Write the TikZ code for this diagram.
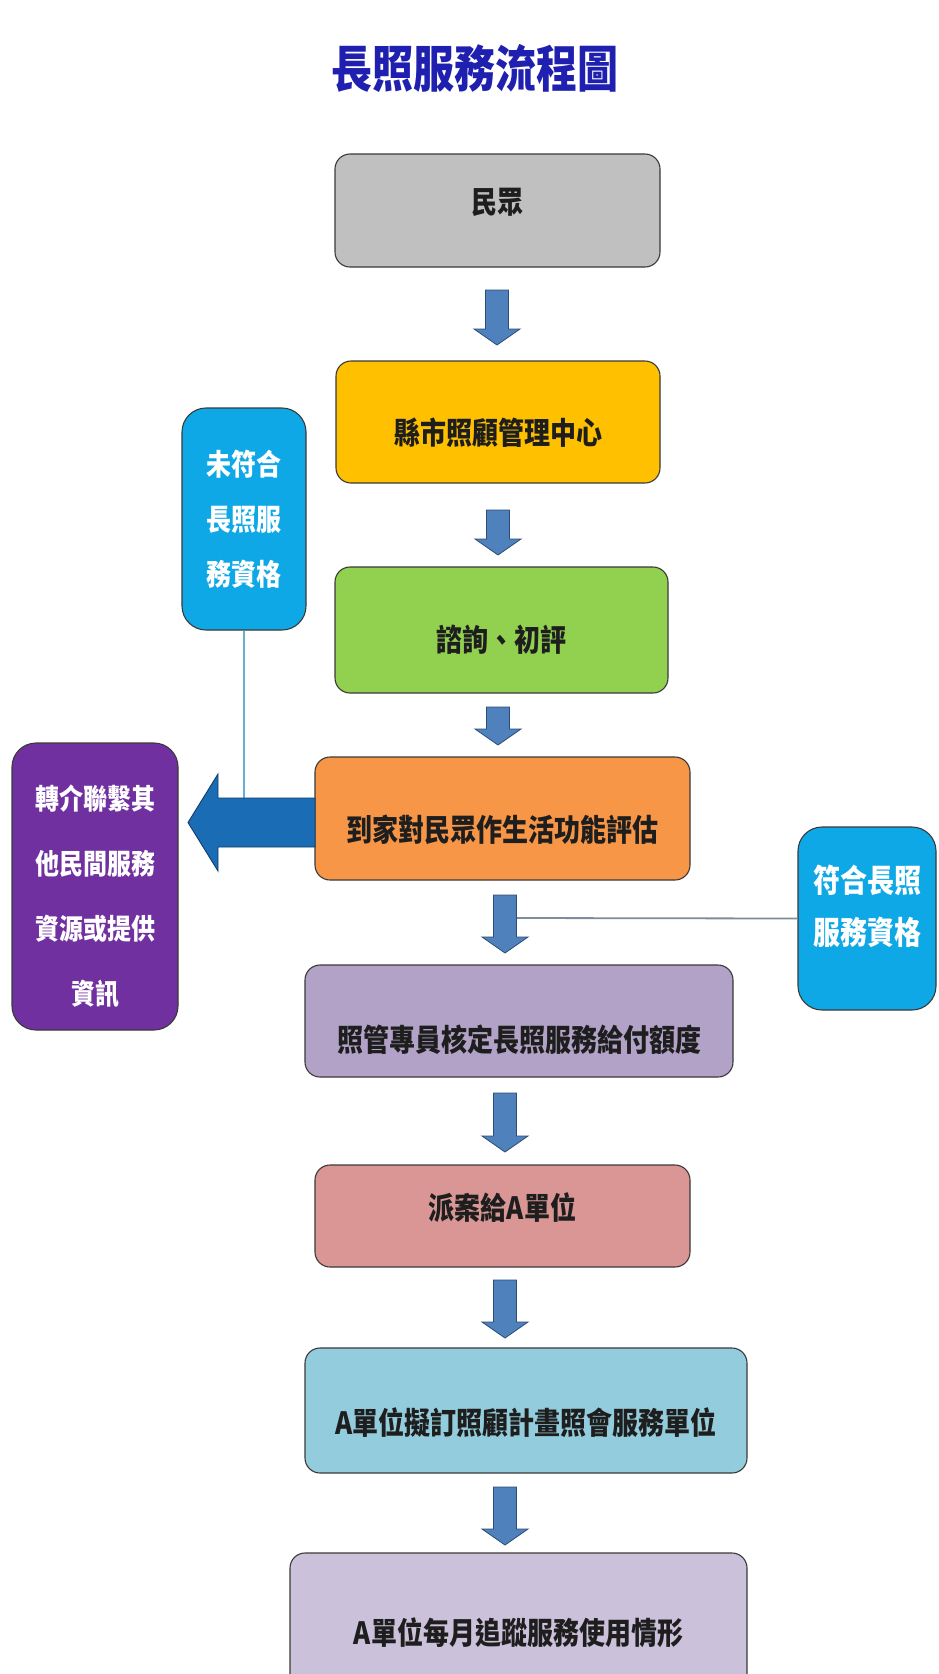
\documentclass[tikz,border=0pt]{standalone}
\usepackage{fontspec}
\usepackage{graphicx}
\newfontfamily\cjk{Noto Sans CJK TC}
\usetikzlibrary{calc}
\definecolor{boxgray}{HTML}{C0C0C0}
\definecolor{boxyellow}{HTML}{FFC000}
\definecolor{boxgreen}{HTML}{92D050}
\definecolor{boxorange}{HTML}{F79646}
\definecolor{boxlav}{HTML}{B3A2C7}
\definecolor{boxpink}{HTML}{D99694}
\definecolor{boxcyan}{HTML}{93CDDD}
\definecolor{boxlilac}{HTML}{CCC1DA}
\definecolor{boxsky}{HTML}{0FA8E6}
\definecolor{boxpurple}{HTML}{7030A0}
\definecolor{arrowblue}{HTML}{4F81BD}
\definecolor{arrowedge}{HTML}{2C4D75}
\definecolor{bigblue}{HTML}{1A6DB5}
\definecolor{bigedge}{HTML}{123E6B}
\definecolor{titleblue}{HTML}{1F1FB0}
\definecolor{inkdark}{HTML}{1E1E1E}
\definecolor{edgedark}{HTML}{3A3A3A}
\definecolor{lineblue}{HTML}{6AAED6}
\definecolor{linegray}{HTML}{7F8C99}
\newcommand\tallt[1]{\scalebox{1}[1.18]{#1}}
\newcommand\downblock[2]{%
  \draw[blockdown] let \p1=(#1), \p2=(#2) in
    (\x1-11.5pt,\y1) -- (\x1+11.5pt,\y1) -- (\x1+11.5pt,\y2+16pt) --
    (\x1+23pt,\y2+16pt) -- (\x1,\y2) -- (\x1-23pt,\y2+16pt) --
    (\x1-11.5pt,\y2+16pt) -- cycle;}
\begin{document}
\begin{tikzpicture}[x=1pt,y=-1pt,
  flowbox/.style={draw=edgedark, line width=1.1pt, rounded corners=15pt,
    inner sep=0pt, align=center, text=inkdark,
    font=\cjk\bfseries\fontsize{26}{30}\selectfont, text depth=3pt},
  sidebox/.style={draw=edgedark, line width=1.1pt, rounded corners=24pt,
    inner sep=0pt, align=center, text=white},
  blockdown/.style={fill=arrowblue, draw=arrowedge, line width=0.8pt},
  bigarrow/.style={fill=bigblue, draw=bigedge, line width=0.9pt},
]
\fill[white] (0,0) rectangle (938,1674);
\useasboundingbox (0,0) rectangle (938,1674);
\clip (0,0) rectangle (938,1674);

% title
\node[font=\cjk\bfseries\fontsize{41}{45}\selectfont, text=titleblue] (title) at (475,68) {\scalebox{1}[1.22]{長照服務流程圖}};

% main flow
\node[flowbox, fill=boxgray, minimum width=325pt, minimum height=113pt, text height=9pt] (people) at (497.5,210.5) {\tallt{民眾}};
\node[flowbox, fill=boxyellow, minimum width=324pt, minimum height=122pt, text height=47pt] (center) at (498,422) {\tallt{縣市照顧管理中心}};
\node[flowbox, fill=boxgreen, minimum width=333pt, minimum height=126pt, text height=45pt] (consult) at (501.5,630) {\tallt{諮詢、初評}};
\node[flowbox, fill=boxorange, minimum width=375pt, minimum height=123pt, text height=48pt] (assess) at (502.5,818.5) {\tallt{到家對民眾作生活功能評估}};
\node[flowbox, fill=boxlav, minimum width=428pt, minimum height=112pt, text height=63pt] (quota) at (519,1021) {\tallt{照管專員核定長照服務給付額度}};
\node[flowbox, fill=boxpink, minimum width=375pt, minimum height=102pt, text height=9pt] (dispatch) at (502.5,1216) {\tallt{派案給A單位}};
\node[flowbox, fill=boxcyan, minimum width=442pt, minimum height=125pt, text height=50pt] (plan) at (526,1410.5) {\tallt{A單位擬訂照顧計畫照會服務單位}};
\node[flowbox, fill=boxlilac, minimum width=457pt, minimum height=147pt, text height=38pt] (track) at (518.5,1626.5) {\tallt{A單位每月追蹤服務使用情形}};

% side boxes
\node[sidebox, fill=boxsky, minimum width=124pt, minimum height=222pt,
  font=\cjk\bfseries\fontsize{25}{55}\selectfont] (ineligible) at (244,519) {\tallt{未符合}\\\tallt{長照服}\\\tallt{務資格}};
\node[sidebox, fill=boxsky, minimum width=138pt, minimum height=183pt,
  label={[name=eligibletext, yshift=12pt, align=center, text=white,
  font=\cjk\bfseries\fontsize{27}{52}\selectfont]center:\tallt{符合長照}\\\tallt{服務資格}}] (eligible) at (867,918.5) {};
\node[sidebox, fill=boxpurple, minimum width=166pt, minimum height=287pt,
  label={[name=referraltext, yshift=-10pt, align=center, text=white,
  font=\cjk\bfseries\fontsize{24}{65}\selectfont]center:\tallt{轉介聯繫其}\\\tallt{他民間服務}\\\tallt{資源或提供}\\\tallt{資訊}}] (referral) at (95,886.5) {};

% down block arrows
\coordinate (a1s) at (497,290);  \coordinate (a1e) at (497,345);
\coordinate (a2s) at (498,510);  \coordinate (a2e) at (498,555);
\coordinate (a3s) at (498,707);  \coordinate (a3e) at (498,745);
\coordinate (a4s) at (505,895);  \coordinate (a4e) at (505,953);
\coordinate (a5s) at (505,1093); \coordinate (a5e) at (505,1152);
\coordinate (a6s) at (505,1280); \coordinate (a6e) at (505,1338);
\coordinate (a7s) at (505,1487); \coordinate (a7e) at (505,1545);
\downblock{a1s}{a1e}
\downblock{a2s}{a2e}
\downblock{a3s}{a3e}
\downblock{a4s}{a4e}
\downblock{a5s}{a5e}
\downblock{a6s}{a6e}
\downblock{a7s}{a7e}

% connector lines
\coordinate (c1) at (244,799);
\coordinate (c2) at (517,918);
\draw[lineblue, line width=1.3pt] (ineligible.south) -- (c1);
\draw[linegray, line width=1.8pt] (eligible.west) -- (c2);

% big left arrow from assessment to referral
\coordinate (bigtail) at (315,822.5);
\coordinate (bigtip) at (188,822.5);
\draw[bigarrow] let \p1=(bigtail), \p2=(bigtip) in
  (\x1,\y1+24.5pt) -- (\x2+30pt,\y1+24.5pt) -- (\x2+30pt,\y1+48.5pt) --
  (\x2,\y2) -- (\x2+30pt,\y1-48.5pt) -- (\x2+30pt,\y1-24.5pt) --
  (\x1,\y1-24.5pt) -- cycle;
\end{tikzpicture}
\end{document}
